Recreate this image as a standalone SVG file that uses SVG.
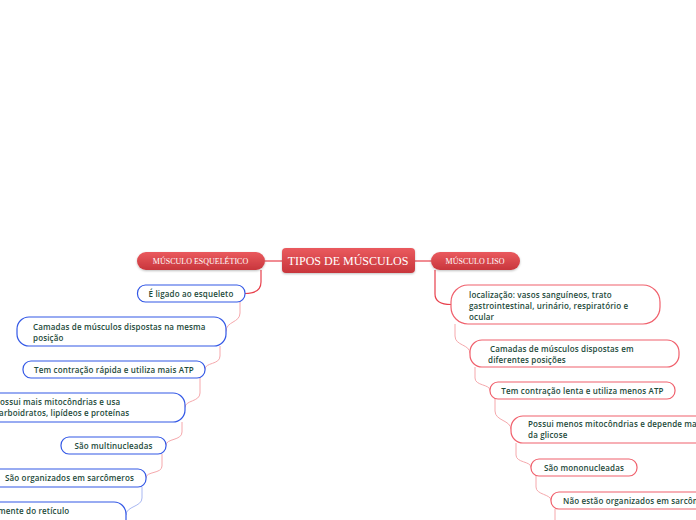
<svg xmlns="http://www.w3.org/2000/svg" width="696" height="520" viewBox="0 0 696 520">
<defs>
<linearGradient id="gRed" x1="0" y1="0" x2="0" y2="1">
<stop offset="0" stop-color="#ea5a5e"/>
<stop offset="1" stop-color="#c8363c"/>
</linearGradient>
<filter id="sh" x="-10%" y="-30%" width="120%" height="160%">
<feDropShadow dx="0" dy="1" stdDeviation="1" flood-color="#000" flood-opacity="0.25"/>
</filter>
</defs>
<style>
.main{fill:url(#gRed);filter:url(#sh)}
.ttl{font-family:"Liberation Serif","DejaVu Serif",serif;fill:#fff}
.bl{fill:#fff;stroke:#3358e6;stroke-width:1.2}
.rd{fill:#fff;stroke:#f0606c;stroke-width:1.2}
.t{font-family:"Open Sans","Noto Sans",sans-serif;font-weight:600;font-size:8px;letter-spacing:0.15px;fill:#1d4a3a}
.c{text-anchor:middle}
.cm{fill:none;stroke:#e8404c;stroke-width:1.2}
.cp{fill:none;stroke:#f5a8ac;stroke-width:1}
.cb{fill:none;stroke:#a9b8f2;stroke-width:1}
</style>
<g id="connectors">
<path class="cm" d="M265 261 H282"/>
<path class="cm" d="M415 261 H431"/>
<path class="cm" d="M261 270 V282 C261 290 255 293.5 245 293.5"/>
<path class="cm" d="M435 270 V294 C435 302 442 304.5 451 304.5"/>
<path class="cp" d="M240 302 V313 C240 323 226 321 226 331.5"/>
<path class="cp" d="M220 346 V356 C220 365 205 362 205 369.5"/>
<path class="cp" d="M200 378 V393 C200 402 185 400 185 407.5"/>
<path class="cp" d="M182 422 V432 C182 441 166 438 166 445.5"/>
<path class="cp" d="M162 454 V466 C162 474 146 471 146 478"/>
<path class="cb" d="M142 487 V498 C142 507 126 506 126 515"/>
<path class="cp" d="M455 324 V336 C455 346 470 344 470 353.5"/>
<path class="cp" d="M475 367 V378 C475 386 490 384 490 390.5"/>
<path class="cp" d="M495 399 V411 C495 421 511 420 511 429.5"/>
<path class="cp" d="M516 443 V455 C516 463 531 461 531 467.5"/>
<path class="cp" d="M536 476 V487 C536 495 551 494 551 500.5"/>
<path class="cp" d="M555 509 V520"/>
</g>
<g id="root">
<rect class="main" x="282" y="248" width="133" height="25" rx="4"/>
<text class="ttl c" x="348" y="265" font-size="12">TIPOS DE MÚSCULOS</text>
</g>
<g id="esqueletico">
<rect class="main" x="137" y="252" width="128" height="18" rx="9"/>
<text class="ttl c" x="200.5" y="264" font-size="8">MÚSCULO ESQUELÉTICO</text>
</g>
<g id="liso">
<rect class="main" x="431" y="252" width="89" height="18" rx="9"/>
<text class="ttl c" x="475" y="264" font-size="8">MÚSCULO LISO</text>
</g>
<g id="l1">
<rect class="bl" x="137.5" y="285" width="107.5" height="17" rx="8"/>
<text class="t c" x="191" y="296.5">É ligado ao esqueleto</text>
</g>
<g id="l2">
<rect class="bl" x="17" y="317" width="209" height="29" rx="12"/>
<text class="t" x="33" y="329.5">Camadas de músculos dispostas na mesma</text>
<text class="t" x="33" y="340.5">posição</text>
</g>
<g id="l3">
<rect class="bl" x="23" y="361" width="182" height="17" rx="8"/>
<text class="t c" x="114" y="372.5">Tem contração rápida e utiliza mais ATP</text>
</g>
<g id="l4">
<rect class="bl" x="-20" y="393" width="205" height="29" rx="12"/>
<text class="t" x="-5" y="405">Possui mais mitocôndrias e usa</text>
<text class="t" x="-5" y="416">carboidratos, lipídeos e proteínas</text>
</g>
<g id="l5">
<rect class="bl" x="61" y="437" width="105" height="17" rx="8"/>
<text class="t c" x="113.5" y="448.5">São multinucleadas</text>
</g>
<g id="l6">
<rect class="bl" x="-10" y="469" width="156" height="18" rx="8"/>
<text class="t" x="5" y="481">São organizados em sarcômeros</text>
</g>
<g id="l7">
<rect class="bl" x="-60" y="502" width="186" height="30" rx="12"/>
<text class="t" x="-2" y="513.5">mente do retículo</text>
</g>
<g id="r1">
<rect class="rd" x="451" y="285" width="209" height="39" rx="17"/>
<text class="t" x="469" y="298">localização: vasos sanguíneos, trato</text>
<text class="t" x="469" y="309">gastrointestinal, urinário, respiratório e</text>
<text class="t" x="469" y="319.5">ocular</text>
</g>
<g id="r2">
<rect class="rd" x="470" y="340" width="209" height="27" rx="12"/>
<text class="t" x="490" y="352">Camadas de músculos dispostas em</text>
<text class="t" x="488" y="363">diferentes posições</text>
</g>
<g id="r3">
<rect class="rd" x="490" y="382" width="185" height="17" rx="8"/>
<text class="t c" x="582.5" y="393.5">Tem contração lenta e utiliza menos ATP</text>
</g>
<g id="r4">
<rect class="rd" x="511" y="416" width="220" height="27" rx="12"/>
<text class="t" x="528" y="427">Possui menos mitocôndrias e depende mais</text>
<text class="t" x="528" y="438">da glicose</text>
</g>
<g id="r5">
<rect class="rd" x="531" y="459" width="106" height="17" rx="8"/>
<text class="t c" x="584" y="470.5">São mononucleadas</text>
</g>
<g id="r6">
<rect class="rd" x="551" y="492" width="200" height="17" rx="8"/>
<text class="t" x="563" y="503.5">Não estão organizados em sarcômeros</text>
</g>
</svg>
